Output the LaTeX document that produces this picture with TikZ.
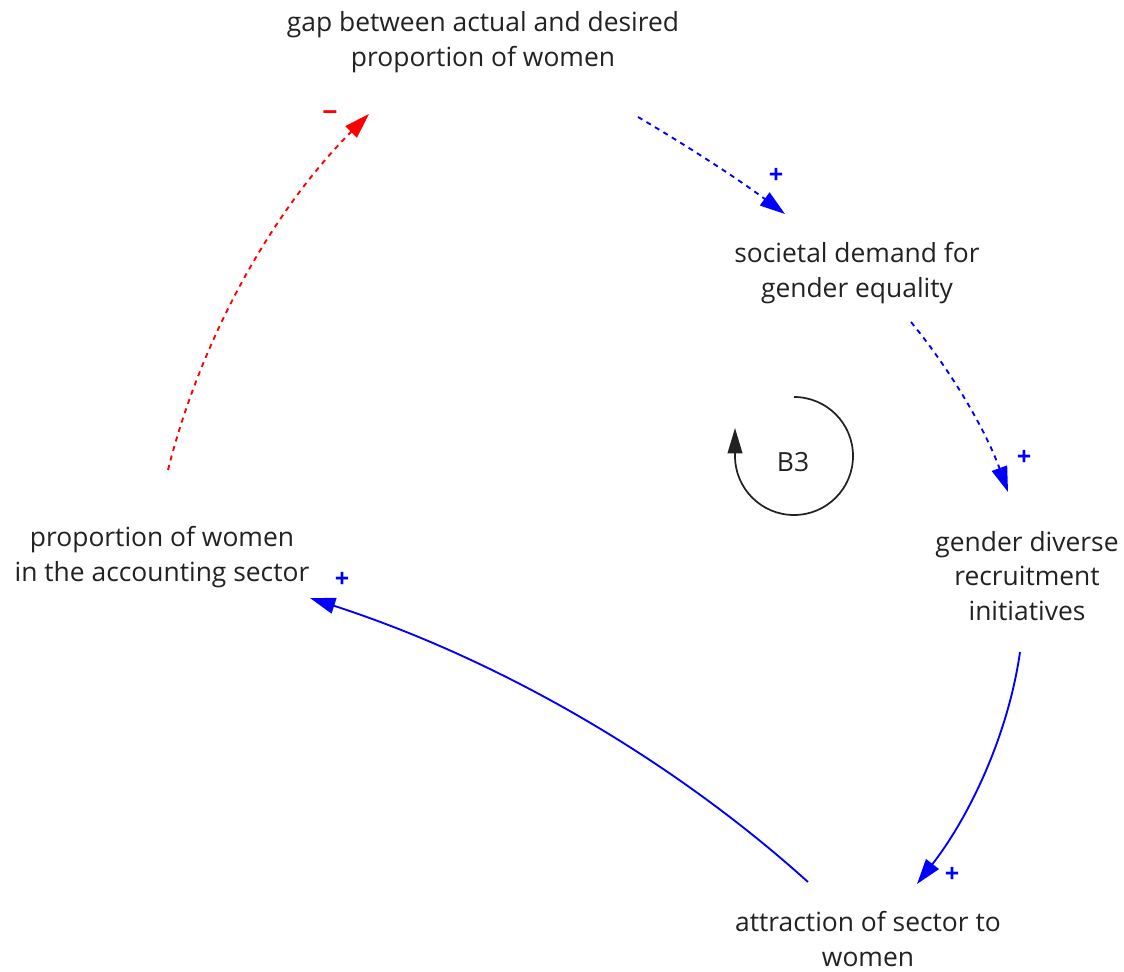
\documentclass[tikz,border=0pt]{standalone}
\usepackage{fontspec}
\setmainfont{Open Sans}
\usetikzlibrary{arrows.meta}
\definecolor{txt}{HTML}{222222}
\tikzset{
  var/.style={font=\fontsize{19.8}{26}\selectfont, text=txt, align=center, inner sep=0pt},
  possign/.style={text=blue, font=\bfseries\fontsize{19}{19}\selectfont, inner sep=0pt},
  negsign/.style={text=red, font=\bfseries\fontsize{20}{20}\selectfont, inner sep=0pt},
  link/.style={draw=blue, line width=1.4pt, -{Triangle[length=19pt,width=12pt]}},
  dashlink/.style={link, dash pattern=on 3.8pt off 3.6pt},
  neglink/.style={link, draw=red, dash pattern=on 3.8pt off 3.6pt},
  looparrow/.style={draw=txt, line width=1.3pt, -{Triangle[length=19pt,width=11pt]}}
}
\begin{document}
\begin{tikzpicture}[x=0.75pt,y=-0.75pt]
\useasboundingbox (0,0) rectangle (1124,971);
\node[var] (gap) at (483,42) {gap between actual and desired\\proportion of women};
\node[var] (soc) at (857,273) {societal demand for\\gender equality};
\node[var] (gdi) at (1027,576) {gender diverse\\recruitment\\initiatives};
\node[var] (attr) at (868,939) {attraction of sector to\\women};
\node[var] (prop) at (162,557) {proportion of women\\in the accounting sector};
\node[var] (b3) at (793,462) {B3};

\draw[dashlink] ([shift={(155,75)}]gap.center) .. controls +(51,30) and +(-47,-35) .. ([shift={(-72,-59)}]soc.center);
\draw[dashlink] ([shift={(54,49)}]soc.center) .. controls +(41,50) and +(-22,-61) .. ([shift={(-19,-84)}]gdi.center);
\draw[link] ([shift={(-7,76)}]gdi.center) .. controls +(-12,84) and +(52,-67) .. ([shift={(49,-55)}]attr.center);
\draw[link] ([shift={(-60,-57)}]attr.center) .. controls +(-142,-128) and +(182,59) .. ([shift={(148,41)}]prop.center);
\draw[neglink] ([shift={(6,-87)}]prop.center) .. controls +(33,-132) and +(-96,96) .. ([shift={(-114,72)}]gap.center);

\draw[looparrow] ([shift={(1,-65)}]b3.center) arc[start angle=-90, end angle=180, radius=59] -- +(0,-28);

\node[possign] (s1) at (776,176) {+};
\node[possign] (s2) at (1024,458) {+};
\node[possign] (s3) at (952,875) {+};
\node[possign] (s4) at (342,580) {+};
\node[negsign] (s5) at (330,116) {−};
\end{tikzpicture}
\end{document}
